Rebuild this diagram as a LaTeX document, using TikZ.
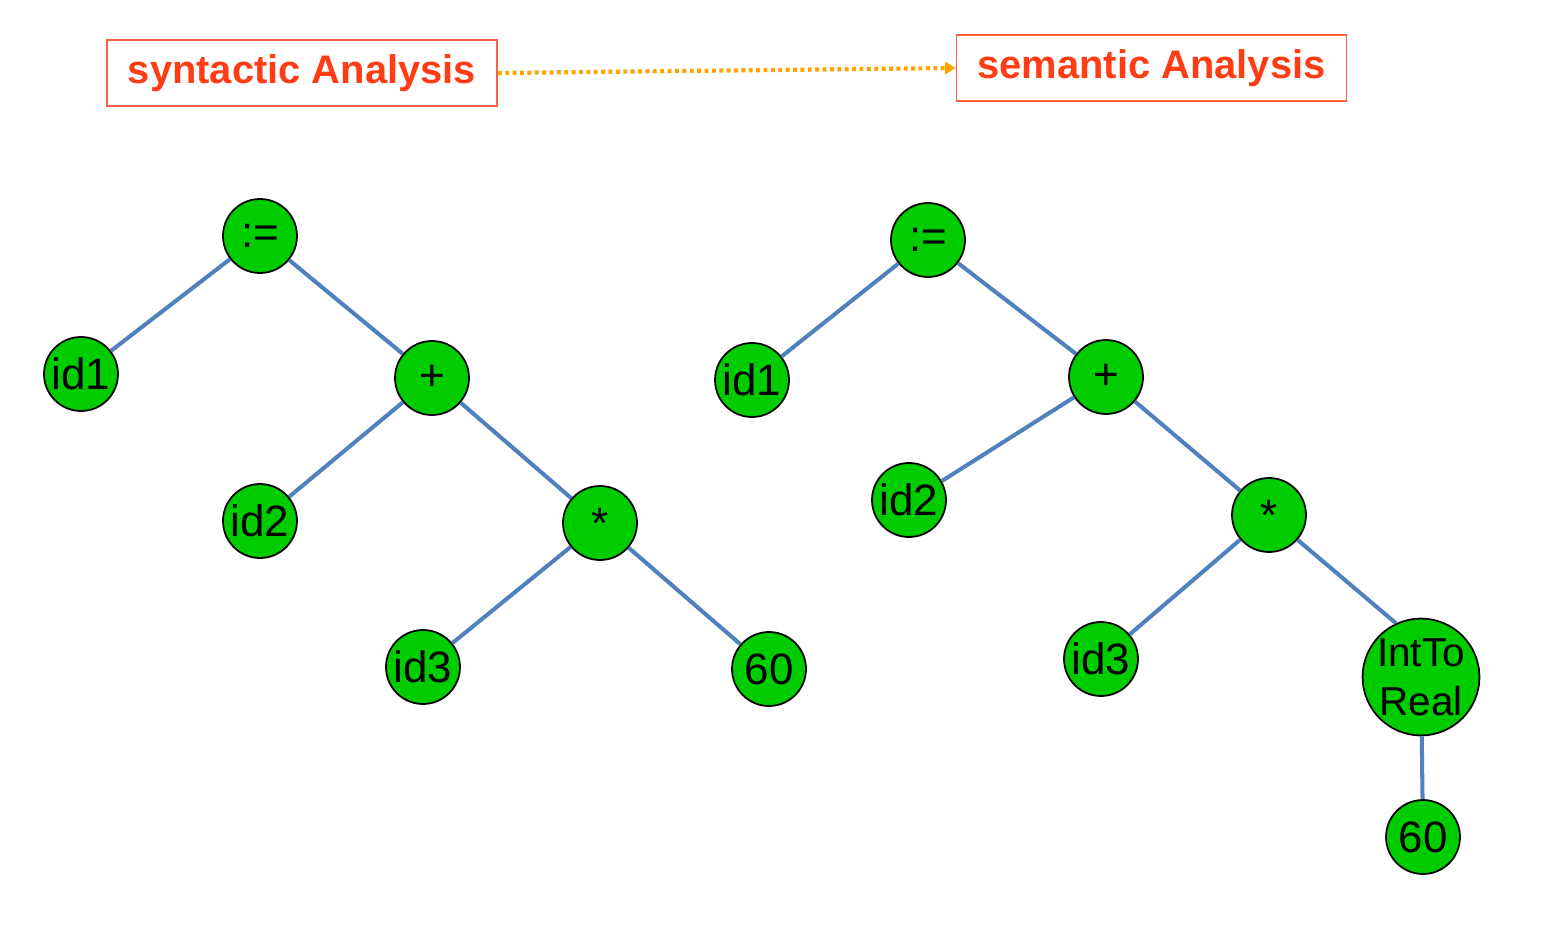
\documentclass[tikz,border=0pt]{standalone}
\usepackage{fontspec}
\setmainfont{Liberation Sans}
\usepackage{tikz}
\usetikzlibrary{arrows.meta}

\definecolor{nodegreen}{HTML}{00CC00}
\definecolor{edgeblue}{HTML}{4F81BD}
\definecolor{titlered}{HTML}{FF3C14}
\definecolor{boxred}{HTML}{FF6040}
\definecolor{arroworange}{HTML}{FFA500}

\tikzset{
    treenode/.style = {circle, draw = black, line width = 1pt, fill = nodegreen, minimum size = 1.48cm, inner sep = 0pt, font = \fontsize{25}{27}\selectfont},
    treeedge/.style = {draw = edgeblue, line width = 2.3pt},
    titlebox/.style = {draw = boxred, line width = 1pt, text = titlered, minimum width = 7.8cm, minimum height = 1.32cm, font = \bfseries\fontsize{22.7}{26}\selectfont}
}

\begin{document}
\begin{tikzpicture}
        \useasboundingbox (0, 0) rectangle (31.32, -19);

        \node[titlebox] (syntactic) at (6.04, -1.46) {syntactic Analysis};
        \node[titlebox] (semantic) at (23.03, -1.36) {semantic Analysis};
        \draw[arroworange, line width = 2.4pt, dash pattern = on 2.2pt off 2pt, -{Triangle[length = 6pt, width = 7pt]}] (syntactic.east) -- (semantic.west);

        \node[treenode] (lassign) at (5.2, -4.72) {:=};
        \node[treenode] (lidA) at (1.62, -7.48) {id1};
        \node[treenode] (lplus) at (8.64, -7.56) {+};
        \node[treenode] (lidB) at (5.2, -10.42) {id2};
        \node[treenode] (lmul) at (12.0, -10.46) {*};
        \node[treenode] (lidC) at (8.46, -13.34) {id3};
        \node[treenode] (lsixty) at (15.38, -13.38) {60};

        \node[treenode] (rassign) at (18.56, -4.8) {:=};
        \node[treenode] (ridA) at (15.04, -7.6) {id1};
        \node[treenode] (rplus) at (22.12, -7.54) {+};
        \node[treenode] (ridB) at (18.18, -10.0) {id2};
        \node[treenode] (rmul) at (25.38, -10.3) {*};
        \node[treenode] (ridC) at (22.02, -13.18) {id3};
        \node[treenode, minimum size = 2.32cm, align = center, font = \fontsize{23}{28}\selectfont] (rcast) at (28.42, -13.54) {IntTo\\Real};
        \node[treenode] (rsixty) at (28.46, -16.74) {60};

        \draw[treeedge]
            (lassign) -- (lidA)
            (lassign) -- (lplus)
            (lplus) -- (lidB)
            (lplus) -- (lmul)
            (lmul) -- (lidC)
            (lmul) -- (lsixty)

            (rassign) -- (ridA)
            (rassign) -- (rplus)
            (rplus) -- (ridB.30)
            (rplus) -- (rmul)
            (rmul) -- (ridC)
            (rmul.-41) -- (rcast.115)
            (rcast) -- (rsixty)
        ;
    \end{tikzpicture}
\end{document}
